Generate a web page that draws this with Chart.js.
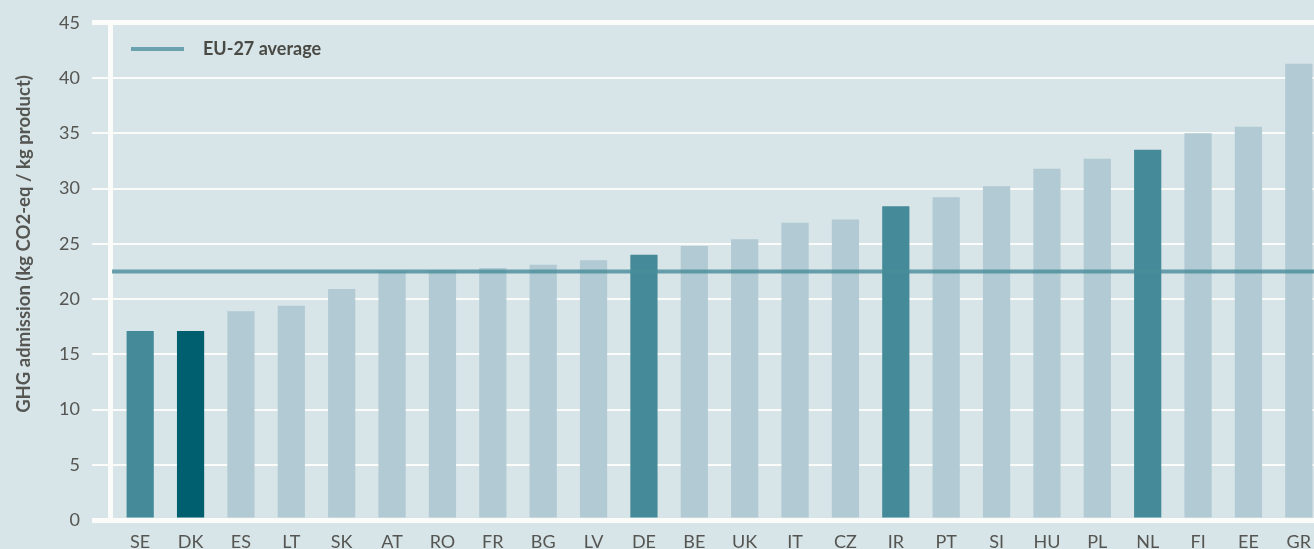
<!DOCTYPE html>
<html>
<head>
<meta charset="utf-8">
<script src="https://cdn.jsdelivr.net/npm/chart.js@4/dist/chart.umd.min.js"></script>
<style>
  html, body { margin: 0; padding: 0; background: #d7e4e8; overflow: hidden; }
  #wrap { width: 1324px; height: 549px; position: relative; }
</style>
</head>
<body>
<div id="wrap"><canvas id="ghg-chart"></canvas></div>
<script>
// Countries, sorted by GHG per kg product
const countries = ['SE', 'DK', 'ES', 'LT', 'SK', 'AT', 'RO', 'FR', 'BG', 'LV', 'DE', 'BE', 'UK', 'IT', 'CZ', 'IR', 'PT', 'SI', 'HU', 'PL', 'NL', 'FI', 'EE', 'GR'];
const ghgValues = [17.1, 17.1, 18.9, 19.4, 20.9, 22.5, 22.6, 22.8, 23.1, 23.5, 24.0, 24.8, 25.4, 26.9, 27.2, 28.4, 29.2, 30.2, 31.8, 32.7, 33.5, 35.0, 35.6, 41.3];
const highlighted = ['SE', 'DE', 'IR', 'NL']; // medium teal
const focusCountry = 'DK'; // dark teal
const euAverage = 22.5;
const yTicks = [0, 5, 10, 15, 20, 25, 30, 35, 40, 45];
const yTitle = 'GHG admission (kg CO2-eq / kg product)';

const barColors = countries.map(c => {
  if (c === focusCountry) return '#005f6e';
  if (highlighted.includes(c)) return '#448a98';
  return '#b1cad3';
});

const textColor = '#555551';

// draws the white y axis line, the EU average line, the legend and the y title
const extrasPlugin = {
  id: 'extras',
  afterDatasetsDraw(chart) {
    const { ctx, chartArea, scales } = chart;
    ctx.save();
    // y axis line
    ctx.strokeStyle = '#fbfbf9';
    ctx.lineWidth = 5;
    ctx.beginPath();
    ctx.moveTo(chartArea.left - 4.5, chartArea.top + 2);
    ctx.lineTo(chartArea.left - 4.5, chartArea.bottom - 2);
    ctx.stroke();

    // EU-27 average line
    const y = scales.y.getPixelForValue(euAverage);
    ctx.strokeStyle = 'rgba(72, 140, 154, 0.8)';
    ctx.lineWidth = 4;
    ctx.beginPath();
    ctx.moveTo(chartArea.left - 3, y);
    ctx.lineTo(chart.width, y);
    ctx.stroke();

    // legend
    ctx.strokeStyle = '#6aa3ae';
    ctx.beginPath();
    ctx.moveTo(131, 49);
    ctx.lineTo(184, 49);
    ctx.stroke();
    ctx.fillStyle = '#4a4a45';
    ctx.font = 'bold 18px Lato';
    ctx.textBaseline = 'middle';
    ctx.textAlign = 'left';
    ctx.fillText('EU-27 average', 203, 49);

    // y axis title
    ctx.translate(24, 244);
    ctx.rotate(-Math.PI / 2);
    ctx.fillStyle = textColor;
    ctx.font = 'bold 18.5px Lato';
    ctx.textAlign = 'center';
    ctx.fillText(yTitle, 0, 0);
    ctx.restore();
  }
};

const ctx = document.getElementById('ghg-chart').getContext('2d');
const ghgChart = new Chart(ctx, {
  type: 'bar',
  data: {
    labels: countries,
    datasets: [{
      label: 'GHG admission',
      data: ghgValues,
      backgroundColor: barColors,
      borderWidth: 0,
      barPercentage: 0.54,
      categoryPercentage: 1
    }]
  },
  options: {
    responsive: true,
    maintainAspectRatio: false,
    animation: false,
    layout: { padding: { top: 21, left: 0, right: 0, bottom: 0 } },
    scales: {
      x: {
        grid: { display: false, drawTicks: false },
        border: { display: false },
        ticks: { color: textColor, font: { family: 'Lato', size: 18 }, padding: 11 },
        afterFit(scale) { scale.height = 29; }
      },
      y: {
        min: 0,
        max: 45,
        afterBuildTicks(scale) { scale.ticks = yTicks.map(v => ({ value: v })); },
        border: { display: false },
        grid: {
          color: '#fbfbf9',
          lineWidth: c => (c.tick && (c.tick.value === 0 || c.tick.value === 45)) ? 5 : 2,
          tickLength: 23,
          drawTicks: true
        },
        ticks: { color: textColor, font: { family: 'Lato', size: 18 }, padding: 12 },
        afterFit(scale) { scale.width = 115; }
      }
    },
    plugins: {
      legend: { display: false },
      tooltip: { enabled: false }
    }
  },
  plugins: [extrasPlugin]
});
</script>
</body>
</html>
